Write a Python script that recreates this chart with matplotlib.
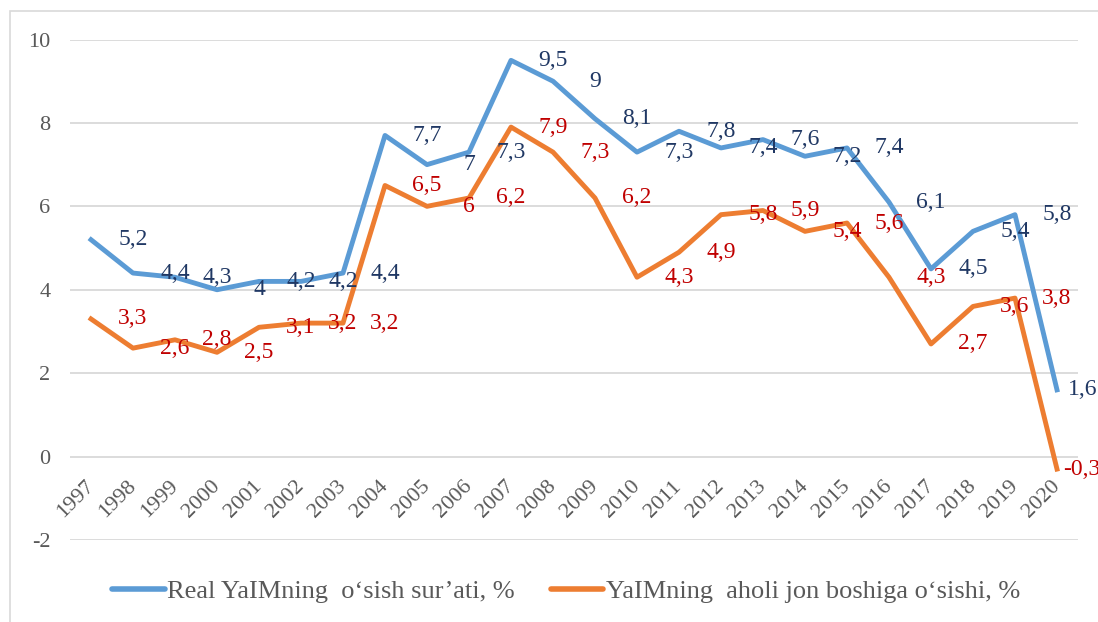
import matplotlib
matplotlib.use("Agg")
import matplotlib.pyplot as plt
import matplotlib.transforms as mtransforms
from matplotlib.patches import Rectangle
from matplotlib.lines import Line2D

plt.rcParams['font.family'] = ['Liberation Serif', 'DejaVu Serif']

years = [str(y) for y in range(1997, 2021)]
real_growth = [5.2, 4.4, 4.3, 4.0, 4.2, 4.2, 4.4, 7.7, 7.0, 7.3, 9.5, 9.0,
               8.1, 7.3, 7.8, 7.4, 7.6, 7.2, 7.4, 6.1, 4.5, 5.4, 5.8, 1.6]
per_capita = [3.3, 2.6, 2.8, 2.5, 3.1, 3.2, 3.2, 6.5, 6.0, 6.2, 7.9, 7.3,
              6.2, 4.3, 4.9, 5.8, 5.9, 5.4, 5.6, 4.3, 2.7, 3.6, 3.8, -0.3]
yticks = [-2, 0, 2, 4, 6, 8, 10]
names = ["Real YaIMning  o\u2018sish sur\u2019ati, %",
         "YaIMning  aholi jon boshiga o\u2018sishi, %"]

blue, orange = "#5B9BD5", "#ED7D31"
navy, red = "#203864", "#C00000"
gray = "#595959"


def fmt(v):
    s = ("%.1f" % v).rstrip("0").rstrip(".")
    return s.replace(".", ",")


fig = plt.figure(figsize=(10.98, 6.22), dpi=100)
ax = fig.add_axes([70 / 1098, 82 / 622, 1008 / 1098, 500.5 / 622])

# outer chart border
fig.patches.append(Rectangle((10 / 1098, -0.05), 1.1, 0.05 + 611 / 622,
                             transform=fig.transFigure, fill=False,
                             edgecolor="#D9D9D9", linewidth=1.2, zorder=0))

x = list(range(len(years)))
ax.plot(x, real_growth, color=blue, lw=3.5, zorder=3)
ax.plot(x, per_capita, color=orange, lw=3.5, zorder=3)

# data labels, shifted one category to the right like in the source
n = len(years)
for vals, col in [(real_growth, navy), (per_capita, red)]:
    for i, v in enumerate(vals):
        xi = i + 1 if i < n - 1 else i + 0.6
        ax.text(xi, v, fmt(v), color=col, fontsize=17, ha="center",
                va="center", zorder=4, clip_on=False)

ax.set_xlim(-0.5, n - 0.5)
ax.set_ylim(-2, 10)
ax.set_yticks(yticks)
ax.set_yticklabels([str(t) for t in yticks], color=gray, fontsize=16)
ax.tick_params(axis="y", length=0, pad=14)
ax.set_xticks([])
ax.grid(axis="y", color="#D9D9D9", lw=1.3)
ax.set_axisbelow(True)
for s in ax.spines.values():
    s.set_visible(False)

# category labels sit under the zero line
off = mtransforms.ScaledTranslation(0, -27 / 100, fig.dpi_scale_trans)
for i, lab in enumerate(years):
    ax.text(i, 0, lab, rotation=45, rotation_mode="anchor", ha="right",
            va="center", fontsize=16, color=gray,
            transform=ax.transData + off)

handles = [Line2D([], [], color=blue, lw=4, solid_capstyle="round"),
           Line2D([], [], color=orange, lw=4, solid_capstyle="round")]
leg = fig.legend(handles, names, loc="center", bbox_to_anchor=(566 / 1098, 1 - 591 / 622),
                 ncol=2, frameon=False, fontsize=19, handlelength=2.0,
                 handletextpad=0.1, columnspacing=1.35)
for t in leg.get_texts():
    t.set_color(gray)

fig.savefig("out.png", dpi=100)
